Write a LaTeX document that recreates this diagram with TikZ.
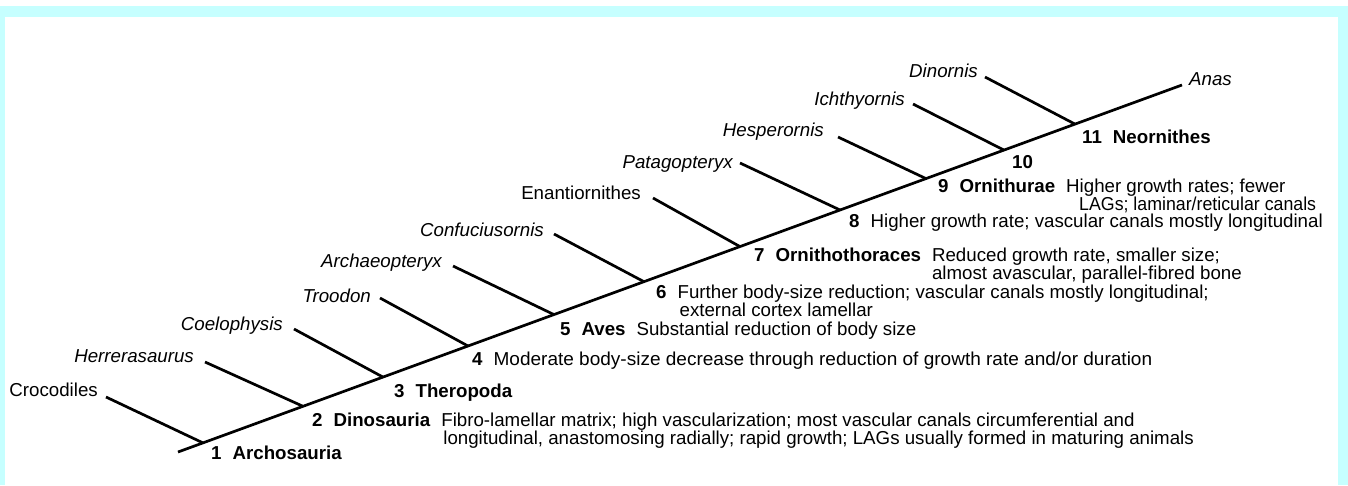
\documentclass[tikz,border=0pt]{standalone}
\usepackage{fontspec}
\setmainfont{Liberation Sans}
\definecolor{band}{RGB}{198,255,255}
\newcommand\figfs{\fontsize{18.7pt}{16pt}\selectfont}
\newcommand\gp{\hspace{11pt}}
\begin{document}
\begin{tikzpicture}[x=1pt,y=-1pt,
  branch/.style={line width=2.7pt},
  taxon/.style={anchor=base east, inner sep=0pt, font=\figfs\itshape},
  taxonup/.style={anchor=base east, inner sep=0pt, font=\figfs},
  clade/.style={anchor=base west, inner sep=0pt, font=\figfs}]
\useasboundingbox (0,0) rectangle (1348,485);
\fill[white] (0,0) rectangle (1348,485);
% frame bands
\fill[band] (0,6) rectangle (1348,17);
\fill[band] (0,6) rectangle (5,485);
\fill[band] (1338,6) rectangle (1348,485);

% spine
\coordinate (s0) at (178,452);
\coordinate (tAnas) at (1182,85);
\coordinate (j1) at (203,442.9);
\coordinate (j2) at (303,406.3);
\coordinate (j3) at (383,377.1);
\coordinate (j4) at (468,346.0);
\coordinate (j5) at (554,314.6);
\coordinate (j6) at (644,281.7);
\coordinate (j7) at (740,246.6);
\coordinate (j8) at (840,210.0);
\coordinate (j9) at (926,178.6);
\coordinate (j10) at (1004,150.1);
\coordinate (j11) at (1075,124.1);

% branch tips
\coordinate (tCroc) at (106,397);
\coordinate (tHerr) at (205,362);
\coordinate (tCoel) at (294,329);
\coordinate (tTroo) at (380,298);
\coordinate (tArch) at (453,266);
\coordinate (tConf) at (554,234);
\coordinate (tEnan) at (653,198);
\coordinate (tPata) at (740,163);
\coordinate (tHesp) at (838,137);
\coordinate (tIcht) at (913,104);
\coordinate (tDino) at (985,77);

\draw[branch] (s0) -- (tAnas);
\draw[branch] (tCroc) -- (j1);
\draw[branch] (tHerr) -- (j2);
\draw[branch] (tCoel) -- (j3);
\draw[branch] (tTroo) -- (j4);
\draw[branch] (tArch) -- (j5);
\draw[branch] (tConf) -- (j6);
\draw[branch] (tEnan) -- (j7);
\draw[branch] (tPata) -- (j8);
\draw[branch] (tHesp) -- (j9);
\draw[branch] (tIcht) -- (j10);
\draw[branch] (tDino) -- (j11);

% taxon labels
\node[taxonup] (lCroc) at (98,396.5) {Crocodiles};
\node[taxon] (lHerr) at (194,362.5) {Herrerasaurus};
\node[taxon] (lCoel) at (283,330.5) {Coelophysis};
\node[taxon] (lTroo) at (371,302.5) {Troodon};
\node[taxon] (lArch) at (442,267.5) {Archaeopteryx};
\node[taxon] (lConf) at (544,236.5) {Confuciusornis};
\node[taxonup] (lEnan) at (641,199.5) {Enantiornithes};
\node[taxon] (lPata) at (733,168.5) {Patagopteryx};
\node[taxon] (lHesp) at (824,136.5) {Hesperornis};
\node[taxon] (lIcht) at (905,105.5) {Ichthyornis};
\node[taxon] (lDino) at (978,77.5) {Dinornis};
\node[taxon, anchor=base west] (lAnas) at (1189,85.5) {Anas};

% clade labels
\node[clade] (c1) at (211,459.5) {\textbf{1}\gp\textbf{Archosauria}};
\node[clade] (c2) at (312,426) {\textbf{2}\gp\textbf{Dinosauria}\gp\begin{tabular}[t]{@{}l@{}}Fibro-lamellar matrix; high vascularization; most vascular canals circumferential and\\\hspace{2pt}longitudinal, anastomosing radially; rapid growth; LAGs usually formed in maturing animals\end{tabular}};
\node[clade] (c3) at (394,397) {\textbf{3}\gp\textbf{Theropoda}};
\node[clade] (c4) at (472,365.5) {\textbf{4}\gp\scalebox{1.017}[1]{Moderate body-size decrease through reduction of growth rate and/or duration}};
\node[clade] (c5) at (560,335.5) {\textbf{5}\gp\textbf{Aves}\gp Substantial reduction of body size};
\node[clade] (c6) at (656,298.5) {\textbf{6}\gp\begin{tabular}[t]{@{}l@{}}Further body-size reduction; vascular canals mostly longitudinal;\\\hspace{2pt}external cortex lamellar\end{tabular}};
\node[clade] (c7) at (754,261.5) {\textbf{7}\gp\textbf{Ornithothoraces}\gp\begin{tabular}[t]{@{}l@{}}Reduced growth rate, smaller size;\\almost avascular, parallel-fibred bone\end{tabular}};
\node[clade] (c8) at (849,227.5) {\textbf{8}\gp Higher growth rate; vascular canals mostly longitudinal};
\node[clade] (c9) at (938,192.5) {\textbf{9}\gp\textbf{Ornithurae}\gp\begin{tabular}[t]{@{}l@{}}Higher growth rates; fewer\\\hspace{13pt}\scalebox{0.95}[1]{LAGs; laminar/reticular canals}\end{tabular}};
\node[clade] (c10) at (1012,168.5) {\textbf{10}};
\node[clade] (c11) at (1082,143.5) {\textbf{11}\gp\textbf{Neornithes}};
\end{tikzpicture}
\end{document}
